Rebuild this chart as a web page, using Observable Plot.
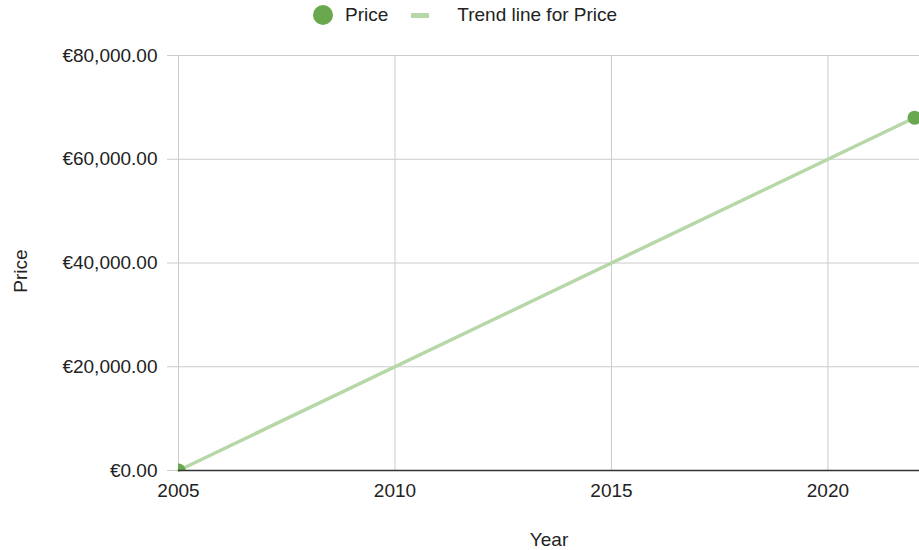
<!DOCTYPE html>
<html>
<head>
<meta charset="utf-8">
<script src="https://cdn.jsdelivr.net/npm/d3@7"></script>
<script src="https://cdn.jsdelivr.net/npm/@observablehq/plot@0.6"></script>
<style>
  body { margin: 0; background: #fff; font-family: "Liberation Sans", Arial, sans-serif; }
  #legend { height: 30px; display: flex; align-items: center; padding-left: 313px; font-size: 19px; color: #222; }
  .dot { width: 20px; height: 20px; border-radius: 50%; background: #6aa84f; margin-right: 12px; }
  .swatch { width: 18px; height: 5px; background: #b6d7a8; margin-left: 23px; margin-right: 28px; }
</style>
</head>
<body>
<div id="legend"><span class="dot"></span><span>Price</span><span class="swatch"></span><span>Trend line for Price</span></div>
<div id="chart"></div>
<script>
const years = [2005, 2022];
const prices = [0, 68000];
const xTicks = [2005, 2010, 2015, 2020];
const yTicks = [0, 20000, 40000, 60000, 80000];
const xLabel = "Year";
const yLabel = "Price";

const data = years.map((y, i) => ({year: y, price: prices[i]}));
const fmt = d => "€" + d3.format(",.2f")(d);

const chart = Plot.plot({
  width: 919,
  height: 520,
  marginTop: 25,
  marginBottom: 80,
  marginLeft: 178,
  marginRight: 0,
  style: {fontSize: "19px", fontFamily: "'Liberation Sans', Arial, sans-serif", color: "#222", background: "#fff"},
  x: {domain: [2005, 2022.115], label: null},
  y: {domain: [0, 80000], label: null},
  marks: [
    Plot.gridX(xTicks, {stroke: "#ccc", strokeOpacity: 1}),
    Plot.gridY(yTicks, {stroke: "#ccc", strokeOpacity: 1}),
    Plot.axisY(yTicks, {tickSize: 11, tickPadding: 10, tickFormat: fmt, stroke: "#ccc", strokeOpacity: 1, fill: "#222"}),
    Plot.axisX(xTicks, {tickSize: 0, tickPadding: 13, tickFormat: d => String(d), fill: "#222"}),
    Plot.linearRegressionY(data, {x: "year", y: "price", stroke: "#b6d7a8", strokeWidth: 3.5, ci: 0}),
    Plot.dot(data, {x: "year", y: "price", r: 7, fill: "#6aa84f", clip: true}),
    Plot.ruleY([0], {stroke: "#333", strokeWidth: 1.5}),
    Plot.text([yLabel], {frameAnchor: "left", textAnchor: "middle", lineAnchor: "middle", dx: -158, dy: 8, rotate: -90, fill: "#222"}),
    Plot.text([xLabel], {frameAnchor: "bottom", textAnchor: "middle", lineAnchor: "middle", dy: 69, fill: "#222"})
  ]
});
document.getElementById("chart").appendChild(chart);
</script>
</body>
</html>
